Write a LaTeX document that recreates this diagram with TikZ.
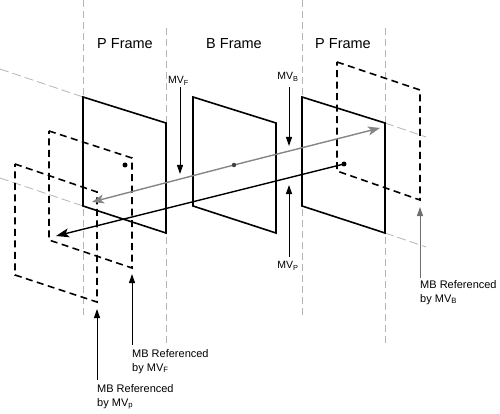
\documentclass[tikz,border=0pt]{standalone}
\usepackage{fontspec}
\setmainfont{Liberation Sans}
\usetikzlibrary{arrows.meta}
\definecolor{guidegray}{HTML}{B4B4B4}
\definecolor{arrowgray}{HTML}{858585}
\definecolor{darkgray2}{HTML}{6E6E6E}
\begin{document}
\begin{tikzpicture}[x=1pt,y=-1pt,
  guide/.style={draw=guidegray, line width=1pt, dash pattern=on 7pt off 4pt},
  slantguide/.style={draw=guidegray, line width=0.8pt, dash pattern=on 9pt off 4pt},
  pframe/.style={draw=black, line width=1.6pt, line join=miter},
  mbframe/.style={draw=black, line width=1.6pt, dash pattern=on 7pt off 4.5pt},
  mvarrow/.style={draw=black, line width=1pt, -{Triangle[length=9pt,width=6pt]}},
  refarrow/.style={draw=black, line width=1pt, -{Triangle[length=9pt,width=6pt]}},
  motiongray/.style={draw=arrowgray, line width=1.4pt, -{Stealth[length=12pt,width=9pt,inset=3pt]}},
  motionblack/.style={draw=black, line width=1.4pt, -{Stealth[length=13pt,width=9pt,inset=3pt]}},
  title/.style={font=\fontsize{14.5}{17}\selectfont, inner sep=0pt},
  mvlbl/.style={font=\fontsize{10.5}{12}\selectfont, inner sep=0pt},
  lbl/.style={font=\fontsize{11}{14}\selectfont, align=left, inner sep=0pt},
  dot/.style={circle, fill=black, inner sep=0pt, minimum size=5pt}
]
\useasboundingbox (0,0) rectangle (500,414);

% vertical guides
\coordinate (g1t) at (83,0);   \coordinate (g1b) at (83,316);
\coordinate (g2t) at (166,28); \coordinate (g2b) at (166,343);
\coordinate (g3t) at (302,0);  \coordinate (g3b) at (302,316);
\coordinate (g4t) at (385,28); \coordinate (g4b) at (385,343);
\draw[guide] (g1t) -- (g1b);
\draw[guide] (g2t) -- (g2b);
\draw[guide] (g3t) -- (g3b);
\draw[guide] (g4t) -- (g4b);

% frames corners
\coordinate (p1tl) at (83,97);  \coordinate (p1tr) at (166,123);
\coordinate (p1br) at (166,233); \coordinate (p1bl) at (83,206);
\coordinate (btl) at (193,97);  \coordinate (btr) at (276,123);
\coordinate (bbr) at (276,233); \coordinate (bbl) at (193,206);
\coordinate (p2tl) at (302,97); \coordinate (p2tr) at (385,123);
\coordinate (p2br) at (385,233); \coordinate (p2bl) at (302,206);

% slanted guides
\coordinate (s1) at (0,69);   \coordinate (s2) at (426,137);
\coordinate (s3) at (0,178);  \coordinate (s4) at (426,247);
\draw[slantguide] (s1) -- (p1tl);
\draw[slantguide] (p2tr) -- (s2);
\draw[slantguide] (s3) -- (p1bl);
\draw[slantguide] (p2br) -- (s4);

% solid frames
\draw[pframe] (p1tl) -- (p1tr) -- (p1br) -- (p1bl) -- cycle;
\draw[pframe] (btl) -- (btr) -- (bbr) -- (bbl) -- cycle;
\draw[pframe] (p2tl) -- (p2tr) -- (p2br) -- (p2bl) -- cycle;

% dashed macroblock frames
\coordinate (m1tl) at (49,131); \coordinate (m1tr) at (132,158);
\coordinate (m1br) at (132,268); \coordinate (m1bl) at (49,240);
\coordinate (m2tl) at (15,164); \coordinate (m2tr) at (97,192);
\coordinate (m2br) at (97,302); \coordinate (m2bl) at (15,275);
\coordinate (m3tl) at (337,62); \coordinate (m3tr) at (420,90);
\coordinate (m3br) at (420,200); \coordinate (m3bl) at (337,171);
\draw[mbframe] (m1tl) -- (m1tr) -- (m1br) -- (m1bl) -- cycle;
\draw[mbframe] (m2tl) -- (m2tr) -- (m2br) -- (m2bl) -- cycle;
\draw[mbframe] (m3tl) -- (m3tr) -- (m3br) -- (m3bl) -- cycle;

% dot positions
\coordinate (d1c) at (125,165);
\coordinate (d2c) at (234,165);
\coordinate (d3c) at (344,164);

% motion arrows
\coordinate (gl) at (92,202);
\coordinate (gr) at (380,128);
\coordinate (bl) at (56,236);
\draw[motiongray] (d2c) -- (gl);
\draw[motiongray] (d2c) -- (gr);
\draw[motionblack] (d3c) -- (bl);

% dots on top
\node[dot] (d1) at (d1c) {};
\node[dot, minimum size=4.5pt, fill=black!75] (d2) at (d2c) {};
\node[dot] (d3) at (d3c) {};

% frame titles
\node[title] (t1) at (125,44) {P Frame};
\node[title] (t2) at (234,44) {B Frame};
\node[title] (t3) at (343,44) {P Frame};

% MV labels
\node[mvlbl, anchor=west] (mvf) at (168,81) {MV\textsubscript{F}};
\node[mvlbl] (mvb) at (288,77) {MV\textsubscript{B}};
\node[mvlbl] (mvp) at (288,266) {MV\textsubscript{P}};
\coordinate (mvfa) at (180,87);  \coordinate (mvfb) at (180,174);
\coordinate (mvba) at (289,87);  \coordinate (mvbb) at (289,146);
\coordinate (mvpa) at (289,257); \coordinate (mvpb) at (289,185);
\draw[mvarrow] (mvfa) -- (mvfb);
\draw[mvarrow] (mvba) -- (mvbb);
\draw[mvarrow] (mvpa) -- (mvpb);

% MB reference labels
\node[lbl, anchor=north west] (rf) at (132,349) {MB Referenced\\by MV\textsubscript{F}};
\node[lbl, anchor=north west] (rp) at (97,384) {MB Referenced\\by MV\textsubscript{p}};
\node[lbl, anchor=north west] (rb) at (420,280) {MB Referenced\\by MV\textsubscript{B}};
\coordinate (rfa) at (132,345); \coordinate (rfb) at (132,274);
\coordinate (rpa) at (97,380);  \coordinate (rpb) at (97,309);
\coordinate (rba) at (420,278); \coordinate (rbb) at (420,207);
\draw[refarrow] (rfa) -- (rfb);
\draw[refarrow] (rpa) -- (rpb);
\draw[refarrow, draw=darkgray2] (rba) -- (rbb);
\end{tikzpicture}
\end{document}
